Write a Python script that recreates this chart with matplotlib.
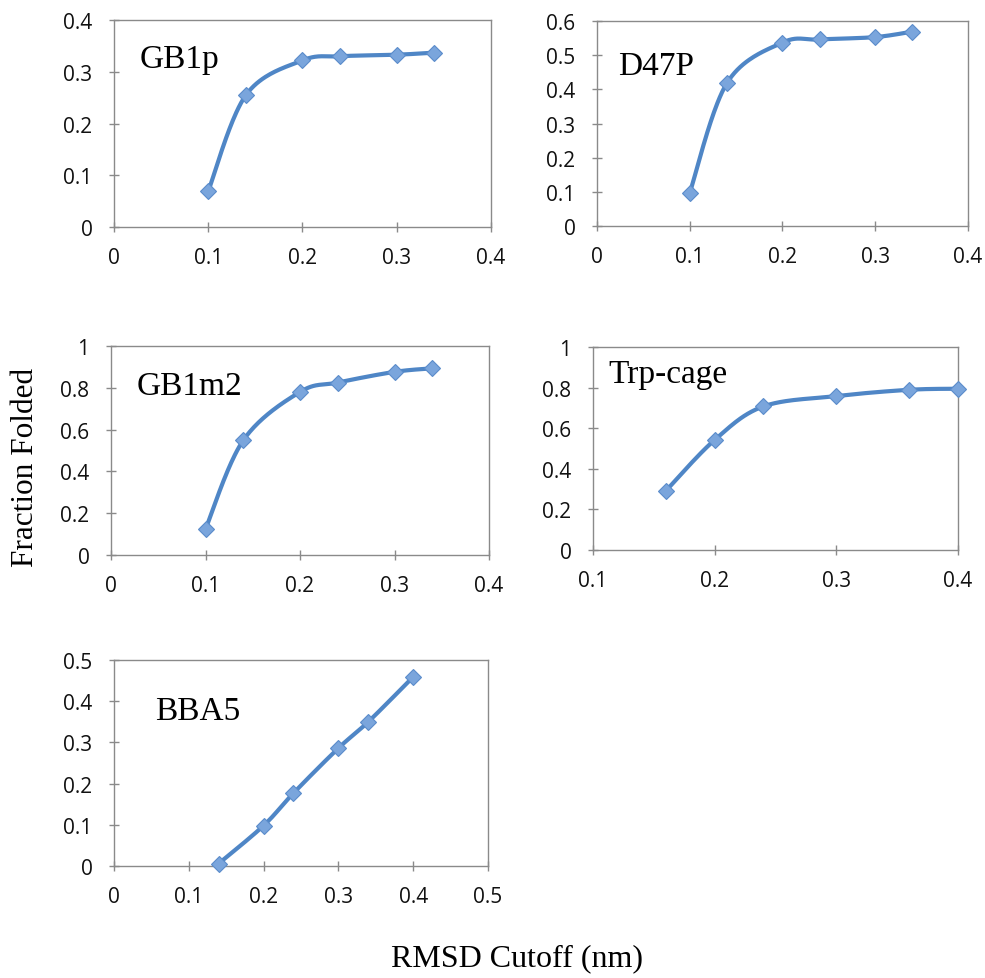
import numpy as np
import matplotlib
matplotlib.use("Agg")
import matplotlib.pyplot as plt

# RMSD cutoff (nm) and fraction folded for each peptide
gb1p_x = [0.10, 0.14, 0.20, 0.24, 0.30, 0.34]
gb1p_y = [0.069, 0.255, 0.322, 0.330, 0.333, 0.337]

d47p_x = [0.10, 0.14, 0.20, 0.24, 0.30, 0.34]
d47p_y = [0.097, 0.418, 0.537, 0.546, 0.553, 0.569]

gb1m2_x = [0.10, 0.14, 0.20, 0.24, 0.30, 0.34]
gb1m2_y = [0.124, 0.549, 0.780, 0.825, 0.876, 0.893]

trp_x = [0.16, 0.20, 0.24, 0.30, 0.36, 0.40]
trp_y = [0.292, 0.542, 0.707, 0.758, 0.789, 0.794]

bba5_x = [0.14, 0.20, 0.24, 0.30, 0.34, 0.40]
bba5_y = [0.006, 0.098, 0.177, 0.286, 0.350, 0.459]

names = ["GB1p", "D47P", "GB1m2", "Trp-cage", "BBA5"]

LINE = "#4F86C6"
FACE = "#7AA5DC"
EDGE = "#5A8CCB"
SPINE = "#8A8A8A"


def smooth(x, y, n=40):
    """Catmull-Rom style smoothing through the data points."""
    x = np.asarray(x, float)
    y = np.asarray(y, float)
    px = np.concatenate([[x[0]], x, [x[-1]]])
    py = np.concatenate([[y[0]], y, [y[-1]]])
    xs, ys = [], []
    for i in range(1, len(px) - 2):
        p0 = np.array([px[i - 1], py[i - 1]])
        p1 = np.array([px[i], py[i]])
        p2 = np.array([px[i + 1], py[i + 1]])
        p3 = np.array([px[i + 2], py[i + 2]])
        c1 = p1 + (p2 - p0) / 6.0
        c2 = p2 - (p3 - p1) / 6.0
        t = np.linspace(0, 1, n)[:, None]
        b = ((1 - t) ** 3) * p1 + 3 * ((1 - t) ** 2) * t * c1 + 3 * (1 - t) * t ** 2 * c2 + t ** 3 * p2
        xs.append(b[:, 0])
        ys.append(b[:, 1])
    return np.concatenate(xs), np.concatenate(ys)


fig = plt.figure(figsize=(9.85, 9.79), dpi=100)

panels = [
    # data, axes rect, xlim, xticks, ylim, yticks, label position
    (gb1p_x, gb1p_y, [0.1157, 0.7671, 0.3827, 0.2114], (0, 0.4), np.arange(0, 0.41, 0.1),
     (0, 0.4), np.arange(0, 0.41, 0.1), (0.069, 0.771)),
    (d47p_x, d47p_y, [0.6061, 0.7681, 0.3766, 0.2094], (0, 0.4), np.arange(0, 0.41, 0.1),
     (0, 0.6), np.arange(0, 0.61, 0.1), (0.057, 0.741)),
    (gb1m2_x, gb1m2_y, [0.1127, 0.4321, 0.3838, 0.2135], (0, 0.4), np.arange(0, 0.41, 0.1),
     (0, 1.0), np.arange(0, 1.01, 0.2), (0.069, 0.770)),
    (trp_x, trp_y, [0.6020, 0.4372, 0.3706, 0.2074], (0.1, 0.4), np.arange(0.1, 0.41, 0.1),
     (0, 1.0), np.arange(0, 1.01, 0.2), (0.041, 0.826)),
    (bba5_x, bba5_y, [0.1157, 0.1144, 0.3797, 0.2104], (0, 0.5), np.arange(0, 0.51, 0.1),
     (0, 0.5), np.arange(0, 0.51, 0.1), (0.110, 0.714)),
]


def fmt(v):
    s = "%.1f" % v
    if s == "0.0":
        return "0"
    if s == "1.0":
        return "1"
    return s


for (x, y, rect, xlim, xticks, ylim, yticks, lpos), name in zip(panels, names):
    ax = fig.add_axes(rect)
    sx, sy = smooth(x, y)
    ax.plot(sx, sy, color=LINE, lw=3.0, solid_capstyle="round", zorder=3, clip_on=False)
    ax.plot(x, y, linestyle="none", marker="D", markersize=8, markerfacecolor=FACE,
            markeredgecolor=EDGE, markeredgewidth=0.8, zorder=4, clip_on=False)
    ax.set_xlim(*xlim)
    ax.set_ylim(*ylim)
    ax.set_xticks(xticks)
    ax.set_yticks(yticks)
    ax.set_xticklabels([fmt(v) for v in xticks])
    ax.set_yticklabels([fmt(v) for v in yticks])
    for s in ax.spines.values():
        s.set_color(SPINE)
        s.set_linewidth(1.0)
    ax.tick_params(axis="both", direction="inout", length=7, width=1.0, color=SPINE,
                   labelsize=15, labelcolor="#111111")
    ax.tick_params(axis="x", pad=11)
    ax.tick_params(axis="y", pad=12)
    for lab in ax.get_xticklabels() + ax.get_yticklabels():
        lab.set_fontfamily("Open Sans")
    ax.text(lpos[0], lpos[1], name, transform=ax.transAxes, fontsize=24,
            family="Liberation Serif", ha="left", va="baseline")

fig.text(0.0254, 0.523, "Fraction Folded", rotation=90, fontsize=22.5,
         family="Liberation Serif", ha="center", va="center")
fig.text(0.5245, 0.021, "RMSD Cutoff (nm)", fontsize=23,
         family="Liberation Serif", ha="center", va="center")

fig.savefig("out.png", dpi=100, facecolor="white")
